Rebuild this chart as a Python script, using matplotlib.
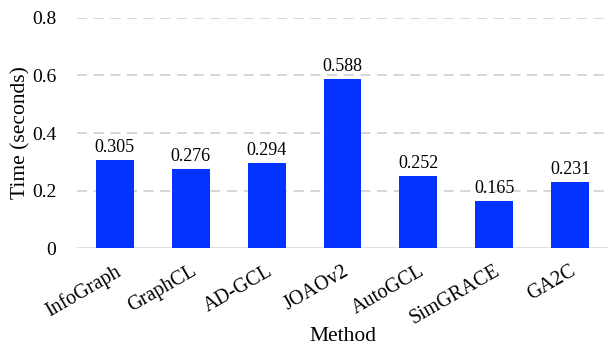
import matplotlib
matplotlib.use("Agg")
import matplotlib.pyplot as plt

methods = ["InfoGraph", "GraphCL", "AD-GCL", "JOAOv2", "AutoGCL", "SimGRACE", "GA2C"]
times = [0.305, 0.276, 0.294, 0.588, 0.252, 0.165, 0.231]
yticks = [0, 0.2, 0.4, 0.6, 0.8]
ytick_labels = ["0", "0.2", "0.4", "0.6", "0.8"]

plt.rcParams["font.family"] = ["Liberation Serif", "DejaVu Serif"]

fig = plt.figure(figsize=(6.08, 3.46), dpi=100)
ax = fig.add_axes([0.1266, 0.2832, 0.8734, 0.6648])

x = range(len(methods))
bars = ax.bar(x, times, width=0.5, color="#0433FF", zorder=3)
for xi, v in zip(x, times):
    ax.text(xi, v + 0.014, f"{v:.3f}", ha="center", va="bottom", fontsize=13)

ax.set_xlim(-0.5, len(methods) - 0.5)
ax.set_ylim(0, 0.8)
ax.set_yticks(yticks)
ax.set_yticklabels(ytick_labels, fontsize=14)
ax.set_xticks(list(x))
ax.set_xticklabels(methods, rotation=30, ha="right", rotation_mode="anchor", fontsize=14.5)

for t in yticks[1:]:
    ax.axhline(t, color="#d0d0d0", lw=1.2, ls=(0, (6, 4)), zorder=1)
ax.axhline(0, color="#d9d9d9", lw=1.2, zorder=2)

for s in ax.spines.values():
    s.set_visible(False)
ax.tick_params(axis="y", length=0, pad=15)
ax.tick_params(axis="x", length=0, pad=10)

ax.set_ylabel("Time (seconds)", fontsize=15.5, labelpad=1)
ax.set_xlabel("Method", fontsize=15.5, labelpad=-1)

fig.savefig("out.png", dpi=100)
